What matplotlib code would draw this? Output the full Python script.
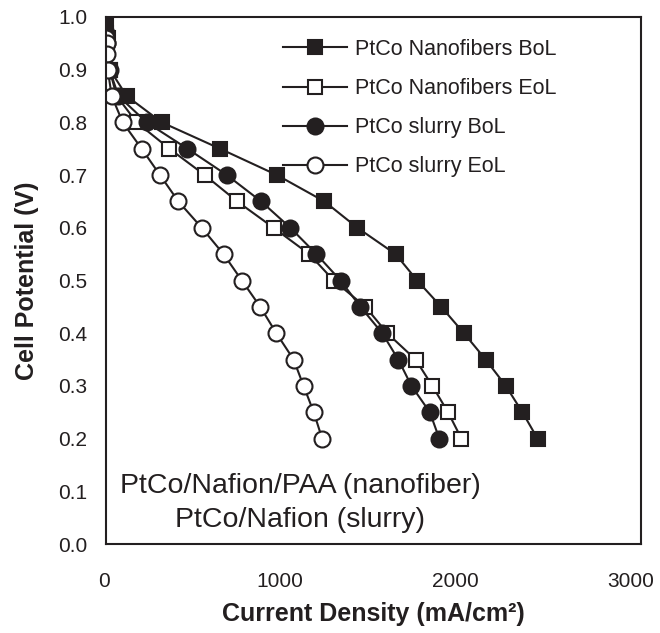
import matplotlib
matplotlib.use("Agg")
import matplotlib.pyplot as plt
from matplotlib.transforms import ScaledTranslation

plt.rcParams['font.family'] = ['Liberation Sans', 'DejaVu Sans']

# data (mA/cm2, V)
nf_bol_x = [0, 10, 22, 116, 313, 640, 959, 1225, 1410, 1624, 1745, 1880, 2007, 2129, 2242, 2335, 2420]
nf_bol_y = [0.99, 0.96, 0.90, 0.85, 0.80, 0.75, 0.70, 0.65, 0.60, 0.55, 0.50, 0.45, 0.40, 0.35, 0.30, 0.25, 0.20]

nf_eol_x = [0, 8, 20, 60, 172, 356, 554, 736, 940, 1140, 1277, 1455, 1577, 1736, 1830, 1918, 1993]
nf_eol_y = [0.97, 0.95, 0.90, 0.85, 0.80, 0.75, 0.70, 0.65, 0.60, 0.55, 0.50, 0.45, 0.40, 0.35, 0.30, 0.25, 0.20]

sl_bol_x = [0, 8, 20, 70, 228, 457, 678, 870, 1034, 1180, 1315, 1427, 1549, 1639, 1713, 1816, 1869]
sl_bol_y = [0.97, 0.95, 0.90, 0.85, 0.80, 0.75, 0.70, 0.65, 0.60, 0.55, 0.50, 0.45, 0.40, 0.35, 0.30, 0.25, 0.20]

sl_eol_x = [0, 4, 6, 10, 32, 94, 200, 303, 406, 537, 659, 762, 865, 955, 1052, 1108, 1165, 1212]
sl_eol_y = [0.96, 0.95, 0.93, 0.90, 0.85, 0.80, 0.75, 0.70, 0.65, 0.60, 0.55, 0.50, 0.45, 0.40, 0.35, 0.30, 0.25, 0.20]

ink = '#231f20'

fig = plt.figure(figsize=(6.6, 6.33), dpi=100)
ax = fig.add_axes([106 / 660, 1 - 544 / 633, 535 / 660, 527 / 633])

style = dict(color=ink, lw=1.5, markeredgewidth=1.5, markeredgecolor=ink)
ax.plot(nf_bol_x, nf_bol_y, marker='s', ms=10.5, markerfacecolor=ink, label='PtCo Nanofibers BoL', **style)
ax.plot(nf_eol_x, nf_eol_y, marker='s', ms=10.5, markerfacecolor='white', label='PtCo Nanofibers EoL', **style)
ax.plot(sl_bol_x, sl_bol_y, marker='o', ms=11.5, markerfacecolor=ink, label='PtCo slurry BoL', **style)
ax.plot(sl_eol_x, sl_eol_y, marker='o', ms=11.5, markerfacecolor='white', label='PtCo slurry EoL', **style)

ax.set_xlim(0, 3000)
ax.set_ylim(0, 1.0)
ax.set_xticks([0, 1000, 2000, 3000])
ax.set_yticks([i / 10 for i in range(11)])
ax.set_yticklabels([f'{i / 10:.1f}' for i in range(11)])
ax.tick_params(length=0, labelsize=15, colors=ink)
ax.tick_params(axis='x', pad=20)
ax.tick_params(axis='y', pad=13.5)
for s in ax.spines.values():
    s.set_linewidth(1.5)
    s.set_color(ink)
    s.set_zorder(5)

# nudge the x tick labels left a little, the last one more so it stays inside the figure
xlabs = ax.get_xticklabels()
for lab, dx in zip(xlabs, [-2, -5, -7, -10]):
    lab.set_transform(lab.get_transform() + ScaledTranslation(dx / 100, 0, fig.dpi_scale_trans))

ax.set_xlabel('Current Density (mA/cm²)', fontsize=18, fontweight='bold', color=ink, labelpad=8)
ax.set_ylabel('Cell Potential (V)', fontsize=18, fontweight='bold', color=ink, labelpad=14)

ax.text(0.3626, 0.0968, 'PtCo/Nafion/PAA (nanofiber)', transform=ax.transAxes,
        ha='center', va='baseline', fontsize=20.5, color=ink)
ax.text(0.3626, 0.0323, 'PtCo/Nafion (slurry)', transform=ax.transAxes,
        ha='center', va='baseline', fontsize=20.5, color=ink)

leg = ax.legend(loc='upper left', bbox_to_anchor=(283 / 660, 1 - 39 / 633), bbox_transform=fig.transFigure,
                frameon=False, fontsize=15.5, numpoints=1, handlelength=2.95, handletextpad=0.4,
                labelspacing=0.84, borderpad=0, borderaxespad=0)
for t in leg.get_texts():
    t.set_color(ink)

fig.savefig('out.png', dpi=100)
